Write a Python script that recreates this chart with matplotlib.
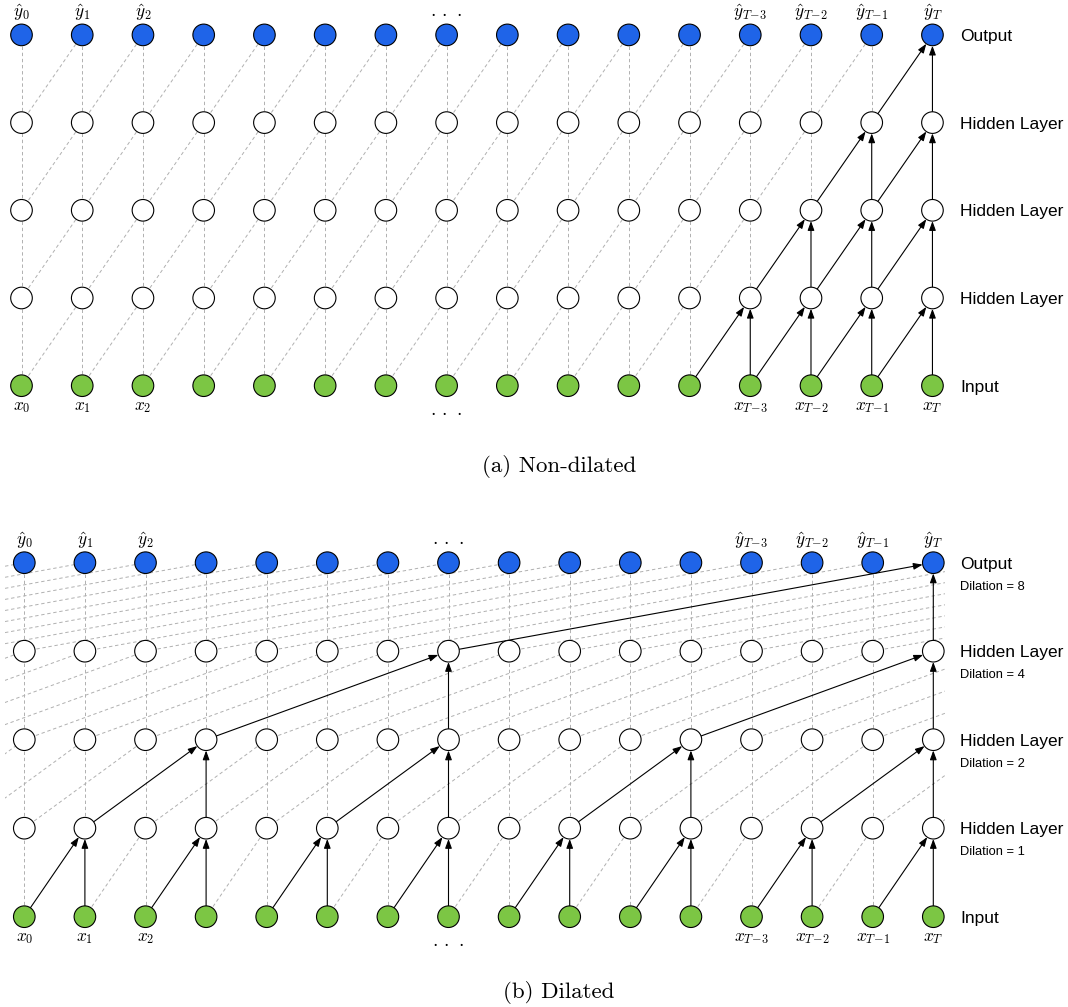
import matplotlib
matplotlib.use("Agg")
import matplotlib.pyplot as plt
from matplotlib.patches import Circle, FancyArrowPatch, Rectangle, ArrowStyle
import numpy as np

plt.rcParams['mathtext.fontset'] = 'cm'

# ---------------- data ----------------
n_cols = 16
layer_names = ["Input", "Hidden Layer", "Hidden Layer", "Hidden Layer", "Output"]
layer_colors = ["#7cc644", "white", "white", "white", "#1f64e8"]
dilations_top = [1, 1, 1, 1]
dilations_bottom = [1, 2, 4, 8]
dilation_labels = ["Dilation = 1", "Dilation = 2", "Dilation = 4", "Dilation = 8"]
label_cols = [0, 1, 2, 7, 12, 13, 14, 15]
DOTS = r"$\cdot\,\cdot\,\cdot$"
y_hat_labels = [r"$\hat{y}_0$", r"$\hat{y}_1$", r"$\hat{y}_2$", DOTS,
                r"$\hat{y}_{T\!-\!3}$", r"$\hat{y}_{T\!-\!2}$", r"$\hat{y}_{T\!-\!1}$", r"$\hat{y}_T$"]
x_labels = [r"$x_0$", r"$x_1$", r"$x_2$", DOTS,
            r"$x_{T\!-\!3}$", r"$x_{T\!-\!2}$", r"$x_{T\!-\!1}$", r"$x_T$"]
captions = ["(a) Non-dilated", "(b) Dilated"]

DASH = "#b0b0b0"
W, H = 1068, 1007
R = 10.8

fig = plt.figure(figsize=(W / 100, H / 100), dpi=100)
ax = fig.add_axes([0, 0, 1, 1])
ax.set_xlim(0, W)
ax.set_ylim(H, 0)
ax.axis('off')

astyle = ArrowStyle('-|>', head_length=0.55, head_width=0.2)


def receptive(dils):
    active = [set() for _ in range(len(dils) + 1)]
    active[-1] = {n_cols - 1}
    for l in range(len(dils), 0, -1):
        d = dils[l - 1]
        for i in active[l]:
            active[l - 1].update({i, i - d})
    return active


def arrow(p0, p1):
    p0 = np.array(p0, float)
    p1 = np.array(p1, float)
    u = (p1 - p0) / np.linalg.norm(p1 - p0)
    a = p0 + R * u
    b = p1 - R * u
    ax.add_patch(FancyArrowPatch(tuple(a), tuple(b), arrowstyle=astyle, mutation_scale=10,
                                 lw=0.8, color='black', shrinkA=0, shrinkB=0, zorder=3))


def dashed(p0, p1, clip):
    ln, = ax.plot([p0[0], p1[0]], [p0[1], p1[1]], color=DASH, lw=0.7,
                  linestyle=(0, (3.5, 2.8)), zorder=1)
    if clip is not None:
        ln.set_clip_path(clip)


def panel(x0, dx, y_in, dy, dils, virtual, show_dil):
    ys = [y_in - k * dy for k in range(len(dils) + 1)]
    xs = x0 + dx * np.arange(n_cols)
    colx = lambda i: x0 + dx * i
    active = receptive(dils)
    clip = Rectangle((5, 0), 940, H, transform=ax.transData, visible=False) if virtual else None
    for l, d in enumerate(dils):
        ya, yb = ys[l], ys[l + 1]
        for i in range(n_cols):
            if i in active[l + 1]:
                arrow((colx(i), ya), (colx(i), yb))
            else:
                dashed((colx(i), ya), (colx(i), yb), None)
        use_virtual = virtual and d > 1
        targets = range(0, n_cols + d) if use_virtual else range(d, n_cols)
        for t in targets:
            s = t - d
            if t < n_cols and t in active[l + 1]:
                arrow((colx(s), ya), (colx(t), yb))
            else:
                dashed((colx(s), ya), (colx(t), yb), clip)
    for l, y in enumerate(ys):
        for x in xs:
            ax.add_patch(Circle((x, y), R, facecolor=layer_colors[l], edgecolor='black',
                                lw=0.8, zorder=5))
        ax.text(960, y + 1.5, layer_names[l], fontsize=12.5, family='Liberation Sans',
                va='center', ha='left')
        if show_dil and l > 0:
            ax.text(960, y + 24, dilation_labels[l - 1], fontsize=9.3,
                    family='Liberation Sans', va='center', ha='left')
    for c, lab in zip(label_cols, y_hat_labels):
        if lab == DOTS:
            ax.text(colx(c), ys[-1] - 22, lab, fontsize=14, ha='center', va='center')
        else:
            ax.text(colx(c), ys[-1] - 18, lab, fontsize=12.5, ha='center', va='baseline')
    for c, lab in zip(label_cols, x_labels):
        if lab == DOTS:
            ax.text(colx(c), ys[0] + 26, lab, fontsize=14, ha='center', va='center')
        else:
            ax.text(colx(c), ys[0] + 24.5, lab, fontsize=12.5, ha='center', va='baseline')


panel(21.5, 60.73, 385.7, 87.7, dilations_top, False, False)
panel(24.3, 60.6, 916.7, 88.5, dilations_bottom, True, True)

ax.text(559, 467, captions[0], fontsize=16.5, family='cmr10', ha='center', va='center')
ax.text(559, 992, captions[1], fontsize=16.5, family='cmr10', ha='center', va='center')

fig.savefig("out.png", dpi=100)
